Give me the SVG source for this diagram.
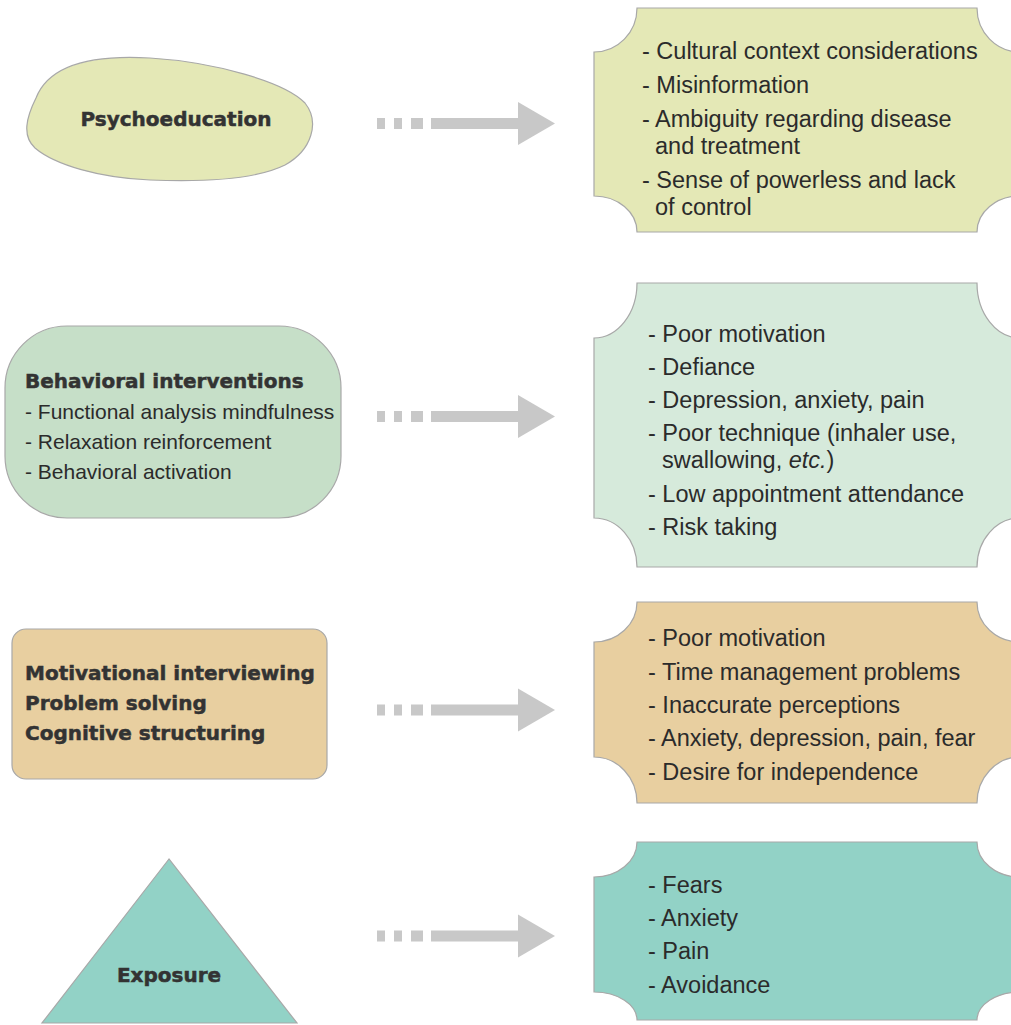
<svg xmlns="http://www.w3.org/2000/svg" width="1011" height="1025" viewBox="0 0 1011 1025">
<defs>
<style>
.shape{stroke:#a8a8a8;stroke-width:1.2}
.bold{font-family:"DejaVu Sans",sans-serif;font-weight:bold;font-size:20px;fill:#333333;stroke:#333333;stroke-width:0.5}
.item{font-family:"Liberation Sans",Arial,sans-serif;font-size:23.5px;fill:#2b2b2b}
.sub{font-family:"Liberation Sans",Arial,sans-serif;font-size:21px;fill:#2b2b2b}
.arr{fill:#c8c8c8}
</style>
<g id="arrowShape" class="arr">
<rect x="377" y="-5.5" width="8" height="11"/>
<rect x="394" y="-5.5" width="8" height="11"/>
<rect x="411" y="-5.5" width="12" height="11"/>
<rect x="431" y="-5.5" width="89" height="11"/>
<polygon points="518,-21.5 555,0 518,21.5"/>
</g>
</defs>
<rect width="1011" height="1025" fill="#ffffff"/>

<g id="connectors">
<use href="#arrowShape" transform="translate(0,123.5)"/>
<use href="#arrowShape" transform="translate(0,416.5)"/>
<use href="#arrowShape" transform="translate(0,710)"/>
<use href="#arrowShape" transform="translate(0,936)"/>
</g>

<g id="psychoeducation">
<path class="shape" fill="#e4e8b6" d="M 36,98 C 50,62 100,55 150,58 C 215,62 285,82 305,103 C 320,122 312,150 285,165 C 255,180 200,182 150,180 C 100,178 55,165 35,148 C 22,136 26,118 36,98 Z"/>
<text class="bold" x="176" y="126" text-anchor="middle">Psychoeducation</text>
</g>

<g id="barriers1">
<path class="shape" fill="#e4e8b6" d="M 637,8 L 977,8 A 43 44 0 0 0 1020,52 L 1020,196 A 43 36 0 0 0 977,232 L 637,232 A 43 36 0 0 0 594,196 L 594,52 A 43 44 0 0 0 637,8 Z"/>
<text class="item" x="642" y="59">- Cultural context considerations</text>
<text class="item" x="642" y="93">- Misinformation</text>
<text class="item" x="642" y="127">- Ambiguity regarding disease</text>
<text class="item" x="655" y="154">and treatment</text>
<text class="item" x="642" y="188">- Sense of powerless and lack</text>
<text class="item" x="655" y="215">of control</text>
</g>

<g id="behavioral">
<rect class="shape" fill="#c6dfc8" x="5" y="326" width="336" height="192" rx="62" ry="62"/>
<text class="bold" x="25" y="388">Behavioral interventions</text>
<text class="sub" x="25" y="419">- Functional analysis mindfulness</text>
<text class="sub" x="25" y="449">- Relaxation reinforcement</text>
<text class="sub" x="25" y="479">- Behavioral activation</text>
</g>

<g id="barriers2">
<path class="shape" fill="#d6eadb" d="M 637,283 L 977,283 A 43 55 0 0 0 1020,338 L 1020,518 A 43 49 0 0 0 977,567 L 637,567 A 43 49 0 0 0 594,518 L 594,338 A 43 55 0 0 0 637,283 Z"/>
<text class="item" x="648" y="342">- Poor motivation</text>
<text class="item" x="648" y="375">- Defiance</text>
<text class="item" x="648" y="408">- Depression, anxiety, pain</text>
<text class="item" x="648" y="441">- Poor technique (inhaler use,</text>
<text class="item" x="662" y="468">swallowing, <tspan font-style="italic">etc.</tspan>)</text>
<text class="item" x="648" y="502">- Low appointment attendance</text>
<text class="item" x="648" y="535">- Risk taking</text>
</g>

<g id="motivational">
<rect class="shape" fill="#e8cfa0" x="12" y="629" width="315" height="150" rx="14" ry="14"/>
<text class="bold" x="25" y="680">Motivational interviewing</text>
<text class="bold" x="25" y="710">Problem solving</text>
<text class="bold" x="25" y="740">Cognitive structuring</text>
</g>

<g id="barriers3">
<path class="shape" fill="#e8cfa0" d="M 637,602 L 977,602 A 43 40 0 0 0 1020,642 L 1020,757 A 43 46 0 0 0 977,803 L 637,803 A 43 46 0 0 0 594,757 L 594,642 A 43 40 0 0 0 637,602 Z"/>
<text class="item" x="648" y="646">- Poor motivation</text>
<text class="item" x="648" y="680">- Time management problems</text>
<text class="item" x="648" y="713">- Inaccurate perceptions</text>
<text class="item" x="648" y="746">- Anxiety, depression, pain, fear</text>
<text class="item" x="648" y="780">- Desire for independence</text>
</g>

<g id="exposure">
<polygon class="shape" fill="#92d2c6" points="169,859 42,1023 297,1023"/>
<text class="bold" x="169" y="982" text-anchor="middle">Exposure</text>
</g>

<g id="barriers4">
<path class="shape" fill="#92d2c6" d="M 637,842 L 977,842 A 43 35 0 0 0 1020,877 L 1020,992 A 43 28 0 0 0 977,1020 L 637,1020 A 43 28 0 0 0 594,992 L 594,877 A 43 35 0 0 0 637,842 Z"/>
<text class="item" x="648" y="893">- Fears</text>
<text class="item" x="648" y="926">- Anxiety</text>
<text class="item" x="648" y="959">- Pain</text>
<text class="item" x="648" y="993">- Avoidance</text>
</g>
</svg>
